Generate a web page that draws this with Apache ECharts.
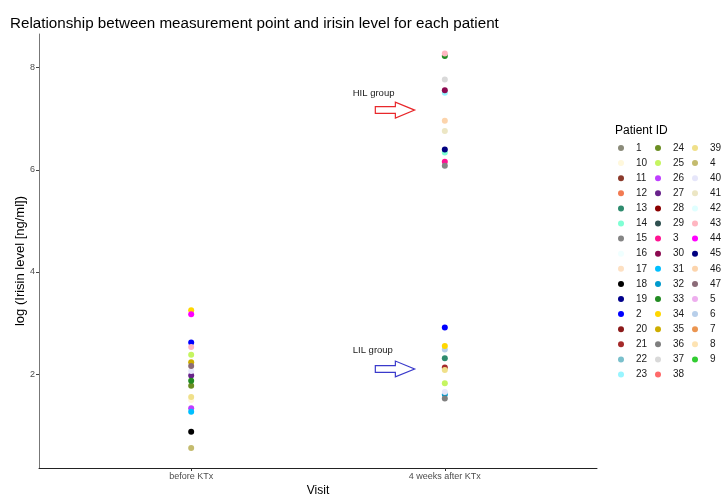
<!DOCTYPE html>
<html>
<head>
<meta charset="utf-8">
<script src="https://cdn.jsdelivr.net/npm/echarts@6/dist/echarts.min.js"></script>
<style>
html,body{margin:0;padding:0;background:#fff;}
#chart{width:723px;height:495px;}
</style>
</head>
<body>
<div id="chart"></div>
<script>
// ---- data ----
var visitLabels = ["before KTx", "4 weeks after KTx"];
var yTickValues = [2, 4, 6, 8];
var patientIds = ["1","2","3","4","5","6","7","8","9","10","11","12","13","14","15","16","17","18","19","20","21","22","23","24","25","26","27","28","29","30","31","32","33","34","35","36","37","38","39","40","41","42","43","44","45","46","47"];
var patientColors = ["#8b8b7a","#0000ff","#ff1493","#c4bb6e","#eeaeee","#b8cfea","#eb9550","#fde3b3","#32cd32","#fff8dc",
  "#8b3a2b","#f27a52","#2e8b6e","#7fffd4","#858585","#f0ffff","#fde0c2","#000000","#00008b","#8b1a1a",
  "#a52a2a","#7ac0cc","#98f5ff","#6b8e23","#c5f560","#bf3eff","#68228b","#8b0000","#2f5050","#8b0a50",
  "#00bfff","#009acd","#228b22","#ffd700","#cdad00","#7f7f7f","#d9d9d9","#ff6a6a","#f0e08a","#e6e6fa",
  "#ece6c4","#e0ffff","#ffb6c1","#ff00ff","#000080","#fcd4ac","#8b6b78"];
// log irisin level before KTx (null = not visible)
var beforeVals = [null,2.62,null,0.55,null,null,null,null,null,1.49,
  null,null,null,null,null,null,null,0.87,null,null,
  null,null,null,1.77,2.38,1.33,1.97,null,null,null,
  1.26,null,1.87,3.25,2.23,null,null,null,1.55,2.06,
  null,null,2.53,3.17,null,null,2.16];
// log irisin level 4 weeks after KTx
var afterVals = [null,2.91,6.16,null,null,2.48,null,null,null,null,
  null,null,2.31,6.34,6.08,null,null,null,null,null,
  2.13,null,7.51,null,1.82,null,null,null,null,7.56,
  null,1.60,8.23,2.55,null,1.52,7.77,null,2.08,1.65,
  6.76,null,8.28,null,6.40,6.96,null];
var annotationTexts = ["HIL group", "LIL group"];
var annotationLevels = [7.17, 2.10];
// legend columns (ggplot string order)
var legendCol1 = ["1","10","11","12","13","14","15","16","17","18","19","2","20","21","22","23"];
var legendCol2 = ["24","25","26","27","28","29","3","30","31","32","33","34","35","36","37","38"];
var legendCol3 = ["39","4","40","41","42","43","44","45","46","47","5","6","7","8","9"];

// ---- chart ----
var FONT = "Liberation Sans, Arial, sans-serif";
var chart = echarts.init(document.getElementById('chart'), null, {renderer:'canvas'});

var series = patientIds.map(function(id, i){
  var d = [];
  if (beforeVals[i] !== null) d.push([1, beforeVals[i]]);
  if (afterVals[i] !== null) d.push([2, afterVals[i]]);
  return {
    name: id, type: 'scatter', data: d, symbol: 'circle', symbolSize: 6,
    itemStyle: {color: patientColors[i], opacity: 1},
    emphasis: {disabled: true}, silent: true, z: 3
  };
});

var arrowGeom = {labelX: 1.637, tailX: 1.726, neckX: 1.805, tipX: 1.881, bodyHalf: 0.066, headHalf: 0.155, labelDy: 0.33};
var arrowColors = ["#e8282b", "#3a3acb"];

series.push({
  type: 'custom', silent: true, z: 4,
  data: annotationLevels.map(function(v, i){ return [arrowGeom.tailX, v, i]; }),
  renderItem: function(params, api){
    var i = params.dataIndex;
    var y = annotationLevels[i];
    var g = arrowGeom;
    var pts = [
      api.coord([g.tailX, y + g.bodyHalf]),
      api.coord([g.neckX, y + g.bodyHalf]),
      api.coord([g.neckX, y + g.headHalf]),
      api.coord([g.tipX, y]),
      api.coord([g.neckX, y - g.headHalf]),
      api.coord([g.neckX, y - g.bodyHalf]),
      api.coord([g.tailX, y - g.bodyHalf])
    ];
    var lp = api.coord([g.labelX, y + g.labelDy + (i === 1 ? 0.04 : 0)]);
    return {
      type: 'group',
      children: [
        {type: 'polygon', shape: {points: pts}, style: {fill: '#ffffff', stroke: arrowColors[i], lineWidth: 1.2}},
        {type: 'text', x: lp[0], y: lp[1], style: {text: annotationTexts[i], fill: '#1a1a1a', font: '9.5px ' + FONT, textAlign: 'left', textVerticalAlign: 'middle'}}
      ]
    };
  }
});

function legendCol(data, left){
  return {
    data: data, orient: 'vertical', left: left, top: 142, icon: 'circle',
    itemWidth: 6, itemHeight: 6, itemGap: 3.1, selectedMode: false,
    padding: 0,
    textStyle: {fontSize: 10, color: '#1a1a1a', fontFamily: FONT, lineHeight: 12, padding: [0,0,0,7]}
  };
}

chart.setOption({
  animation: false,
  backgroundColor: '#ffffff',
  title: [{
    text: 'Relationship between measurement point and irisin level for each patient',
    left: 5, top: 11,
    textStyle: {fontSize: 15.2, fontWeight: 'normal', color: '#000', fontFamily: FONT}
  }, {
    text: 'Patient ID', left: 610, top: 120,
    textStyle: {fontSize: 12, fontWeight: 'normal', color: '#000', fontFamily: FONT}
  }],
  legend: [legendCol(legendCol1, 618), legendCol(legendCol2, 655), legendCol(legendCol3, 692)],
  grid: {left: 39, right: 126, top: 34, bottom: 27, containLabel: false, outerBoundsMode: 'none'},
  xAxis: {
    type: 'value', min: 0.4, max: 2.6,
    name: 'Visit', nameLocation: 'middle', nameGap: 17, nameMoveOverlap: false,
    nameTextStyle: {fontSize: 12, color: '#000', fontFamily: FONT},
    axisLine: {show: true, onZero: false, lineStyle: {color: '#222', width: 1}},
    axisTick: {show: true, customValues: [1, 2], length: 3, lineStyle: {color: '#333'}},
    axisLabel: {customValues: [1, 2], formatter: function(v){ return visitLabels[Math.round(v) - 1]; }, fontSize: 9, color: '#4d4d4d', fontFamily: FONT, margin: 4},
    splitLine: {show: false}
  },
  yAxis: {
    type: 'value', min: 0.16, max: 8.66,
    name: 'log (Irisin level [ng/ml])', nameLocation: 'middle', nameGap: 12, nameMoveOverlap: false,
    nameTextStyle: {fontSize: 13, color: '#000', fontFamily: FONT, padding: [0, 20, 0, 0]},
    axisLine: {show: true, onZero: false, lineStyle: {color: '#777', width: 1}},
    axisTick: {show: true, customValues: yTickValues, length: 3, lineStyle: {color: '#444'}},
    axisLabel: {customValues: yTickValues, fontSize: 9, color: '#4d4d4d', fontFamily: FONT, margin: 4},
    splitLine: {show: false}
  },
  series: series
});
</script>
</body>
</html>
